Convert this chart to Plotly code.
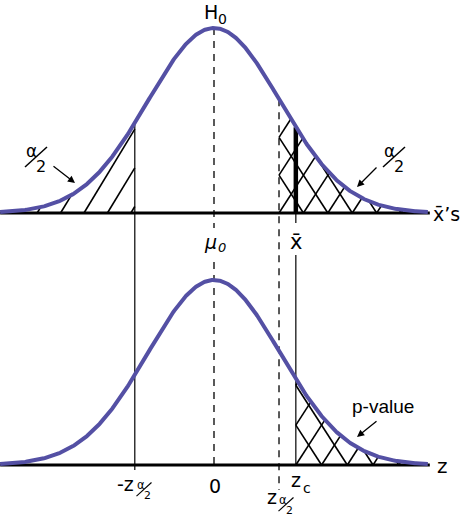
import numpy as np
import plotly.graph_objects as go

# ---- chart values (in z units, standard normal, peak height 1) ----
z_range = [-3.24, 3.24]            # extent of drawn curves
crit_left = -1.2                   # -z_{alpha/2}
crit_right = 0.985                 # z_{alpha/2}
z_c = 1.24                         # observed z (x-bar)
top_offset = 1.362                 # vertical offset of the upper (x-bar) panel
axis_end = 3.27

# pixel <-> data mapping helpers (for layout placement only)
PXX, X0 = 66.0, 214.0
PXY, Y0 = 185.0, 465.0
def dx(px): return (px - X0) / PXX
def dy(py): return (Y0 - py) / PXY

def curve(x):
    return np.exp(-np.asarray(x) ** 2 / 2.0)

def hatch(xa, xb, direction, phase, spacing, slope):
    """hatch segments under curve between xa and xb (heights relative to baseline)"""
    X, Y = [], []
    for k in range(-60, 60):
        x0 = phase + k * spacing
        if direction > 0:
            xs = max(x0, xa)
            if xs >= xb:
                continue
            ys = slope * (xs - x0)
            if ys >= curve(xs):
                continue
            g = np.linspace(xs, xb, 3000)
            h = slope * (g - x0) - curve(g)
            xe = g[np.argmax(h >= 0)] if (h >= 0).any() else xb
            ye = slope * (xe - x0)
        else:
            xs = min(x0, xb)
            if xs <= xa:
                continue
            ys = slope * (x0 - xs)
            if ys >= curve(xs):
                continue
            g = np.linspace(xs, xa, 3000)
            h = slope * (x0 - g) - curve(g)
            xe = g[np.argmax(h >= 0)] if (h >= 0).any() else xa
            ye = slope * (x0 - xe)
        X += [xs, xe, None]
        Y += [ys, ye, None]
    return X, Y

def shift(Y, off):
    return [None if v is None else v + off for v in Y]

CURVE_COLOR = "#5450A4"
fig = go.Figure()

def seg(xs, ys, width=1, dash="solid", color="black"):
    fig.add_trace(go.Scatter(x=xs, y=ys, mode="lines", hoverinfo="skip",
                             line=dict(color=color, width=width, dash=dash), showlegend=False))

s1 = 1.65 * PXX / PXY
s2 = 1.55 * PXX / PXY
# hatching: top-left tail
hx, hy = hatch(z_range[0], crit_left, +1, crit_left - 0.06, 0.355, s1)
seg(hx, shift(hy, top_offset), 1.6)
# hatching: top-right tail (cross)
for d in (+1, -1):
    hx, hy = hatch(crit_right, z_range[1], d, crit_right, 0.37, s2)
    seg(hx, shift(hy, top_offset), 1.6)
# hatching: bottom-right tail (cross)
for d in (+1, -1):
    hx, hy = hatch(z_c, z_range[1], d, z_c, 0.39, s2)
    seg(hx, hy, 1.6)

# vertical lines
seg([crit_left, crit_left], [top_offset + float(curve(crit_left)), dy(470)], 1.2)
seg([0, 0], [top_offset + 1.0, dy(228)], 1.3, "7px,6px")
seg([0, 0], [dy(262), dy(470)], 1.3, "7px,6px")
seg([crit_right, crit_right], [top_offset + float(curve(crit_right)), dy(490)], 1.3, "7px,6px")
seg([z_c, z_c], [top_offset + float(curve(z_c)), top_offset], 4.5)
seg([z_c, z_c], [top_offset, dy(223)], 1.2)
seg([z_c, z_c], [dy(255), 0], 1.2)

# baselines
seg([z_range[0], axis_end], [top_offset, top_offset], 3)
seg([z_range[0], axis_end], [0, 0], 3)

# curves
xc = np.linspace(z_range[0], z_range[1], 500)
seg(xc, curve(xc) + top_offset, 4, color=CURVE_COLOR)
seg(xc, curve(xc), 4, color=CURVE_COLOR)

ann = []
shapes = []
FONT = "Verdana, DejaVu Sans, sans-serif"
def lab(px, py, text, size=18, italic=False, family=FONT):
    t = f"<i>{text}</i>" if italic else text
    ann.append(dict(x=dx(px), y=dy(py), text=t, showarrow=False,
                    font=dict(family=family, size=size, color="black"),
                    xanchor="center", yanchor="middle"))

def frac(cx, cy, sc=1.0):
    lab(cx - 5 * sc, cy - 7 * sc, "α", 17 * sc)
    lab(cx + 5 * sc, cy + 8 * sc, "2", 16 * sc)
    shapes.append(dict(type="line", x0=dx(cx - 11 * sc), y0=dy(cy + 9 * sc),
                       x1=dx(cx + 11 * sc), y1=dy(cy - 11 * sc),
                       line=dict(color="black", width=1.5 if sc > 0.8 else 1.1)))

def arrow(tx, ty, hx_, hy_):
    ann.append(dict(x=dx(hx_), y=dy(hy_), ax=dx(tx), ay=dy(ty), axref="x", ayref="y",
                    text="", showarrow=True, arrowhead=2, arrowsize=1.1,
                    arrowwidth=1.3, arrowcolor="black"))

# top labels
lab(211, 12, "H", 19)
lab(222, 19, "0", 14)
lab(210, 242, "μ", 19, italic=True)
lab(222, 247, "0", 13, italic=True)
lab(296, 242, "x̄", 21)
lab(446, 214, "x̄’s", 19)
lab(442, 466, "z", 20)

frac(36, 158)
arrow(52, 165, 75, 183)
frac(394, 158)
arrow(378, 166, 357, 187)

lab(383, 406, "p-value", 19, family="Liberation Sans, Arial, sans-serif")
arrow(378, 420, 357, 437)

# bottom labels
lab(125, 484, "-z", 19)
frac(144, 490, 0.68)
lab(215, 486, "0", 19)
lab(272, 497, "z", 19)
frac(286, 505, 0.68)
lab(296, 480, "z", 19)
lab(307, 488, "c", 14)

fig.update_layout(
    width=462, height=519, autosize=False,
    margin=dict(l=0, r=0, t=0, b=0),
    paper_bgcolor="white", plot_bgcolor="white",
    xaxis=dict(range=[dx(0), dx(462)], visible=False, fixedrange=True),
    yaxis=dict(range=[dy(519), dy(0)], visible=False, fixedrange=True),
    annotations=ann, shapes=shapes, showlegend=False,
)
fig.write_html("out.html", config={"displayModeBar": False},
               post_script="document.body.style.margin='0';document.body.style.overflow='hidden';")
